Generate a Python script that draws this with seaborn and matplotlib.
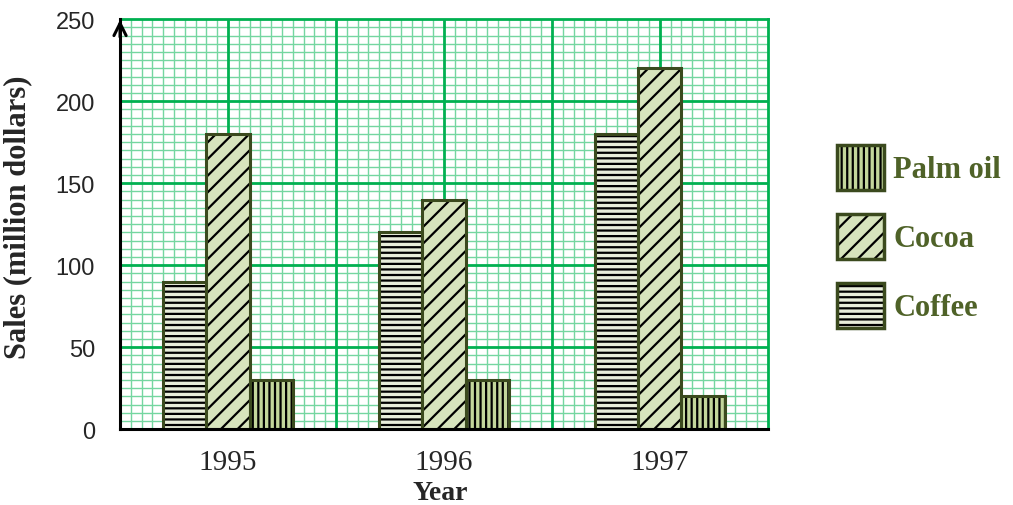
import pandas as pd
import numpy as np
import seaborn as sns
import matplotlib
matplotlib.use('Agg')
import matplotlib.pyplot as plt
from matplotlib.patches import Patch
from matplotlib.ticker import MultipleLocator, FixedLocator

years = ['1995', '1996', '1997']
year_pos = [1, 3, 5]
crops = ['Coffee', 'Cocoa', 'Palm oil']
coffee = [90, 120, 180]
cocoa = [180, 140, 220]
palm_oil = [30, 30, 20]

fills = {'Coffee': '#e9eedb', 'Cocoa': '#d7e4bd', 'Palm oil': '#c3d69b'}
hatches = {'Coffee': '---', 'Cocoa': '//', 'Palm oil': '|||'}
edge = '#3b4a1e'

df = pd.DataFrame({
    'pos': year_pos * 3,
    'sales': coffee + cocoa + palm_oil,
    'crop': [c for c in crops for _ in years],
})

sns.set_style('white')
plt.rcParams['hatch.linewidth'] = 1.6
serif = ['Liberation Serif', 'DejaVu Serif']

fig = plt.figure(figsize=(10.13, 5.06), dpi=100)
ax = fig.add_axes([0.1185, 0.150, 0.6395, 0.810])

sns.barplot(data=df, x='pos', y='sales', hue='crop', hue_order=crops,
            native_scale=True, width=0.6, gap=0, palette=fills,
            edgecolor=edge, linewidth=2.2, legend=False, ax=ax, zorder=3)

for crop, cont in zip(crops, ax.containers):
    for p in cont:
        p.set_facecolor(fills[crop])
        p.set_edgecolor(edge)
        p.set_hatch(hatches[crop])
        p._hatch_color = (0, 0, 0, 1)

ax.set_xlim(0, 6)
ax.set_ylim(0, 250)
ax.set_axisbelow(True)
minor_x = [i / 10 for i in range(61) if i % 10 != 0]
minor_y = [v for v in range(0, 251, 5) if v % 50 != 0]
ax.xaxis.set_minor_locator(FixedLocator(minor_x))
ax.yaxis.set_major_locator(MultipleLocator(50))
ax.yaxis.set_minor_locator(FixedLocator(minor_y))
ax.grid(which='minor', color='#74d6a0', lw=1.0)
ax.grid(which='major', visible=False)
# major graph-paper lines on top of the minor ones
for x in range(1, 6):
    ax.axvline(x, color='#00b050', lw=2.0, zorder=1)
for y in range(50, 250, 50):
    ax.axhline(y, color='#00b050', lw=2.0, zorder=1)

ax.set_xticks(range(7))
ax.set_xticklabels(['', years[0], '', years[1], '', years[2], ''],
                   fontsize=21, family=serif)
for lab in ax.get_yticklabels():
    lab.set_fontsize(17)
    lab.set_family(['Liberation Sans', 'DejaVu Sans'])
ax.tick_params(which='major', length=8, width=2, color='black')
ax.tick_params(axis='y', which='major', pad=10)
ax.tick_params(axis='x', which='major', pad=6)
ax.tick_params(which='minor', length=0)

for s in ['top', 'right']:
    ax.spines[s].set_color('#00b050')
    ax.spines[s].set_linewidth(2)
for s in ['left', 'bottom']:
    ax.spines[s].set_color('black')
    ax.spines[s].set_linewidth(2.2)
    ax.spines[s].set_zorder(4)

ax.annotate('', xy=(0, 1.005), xycoords='axes fraction', xytext=(0, 0.95),
            arrowprops=dict(arrowstyle='->', lw=2.2, color='black',
                            mutation_scale=22), zorder=5)

ax.set_xlabel('Year', fontsize=20, fontweight='bold', family=serif)
ax.set_ylabel('Sales (million dollars)', fontsize=22, fontweight='bold', family=serif)
ax.xaxis.set_label_coords(0.494, -0.125)
ax.yaxis.set_label_coords(-0.135, 0.52)

handles = [Patch(facecolor=fills[c], edgecolor=edge, hatch=hatches[c], linewidth=2.5)
           for c in ['Palm oil', 'Cocoa', 'Coffee']]
leg = fig.legend(handles, ['Palm oil', 'Cocoa', 'Coffee'], loc='upper left',
                 bbox_to_anchor=(0.826, 0.712), frameon=False,
                 prop=dict(family=serif, weight='bold', size=22),
                 handlelength=1.55, handleheight=1.9, labelspacing=0.78,
                 handletextpad=0.3, borderpad=0, borderaxespad=0)
for t in leg.get_texts():
    t.set_color('#4f6228')
for h in leg.legend_handles:
    h._hatch_color = (0, 0, 0, 1)

fig.savefig('out.png', dpi=100)
